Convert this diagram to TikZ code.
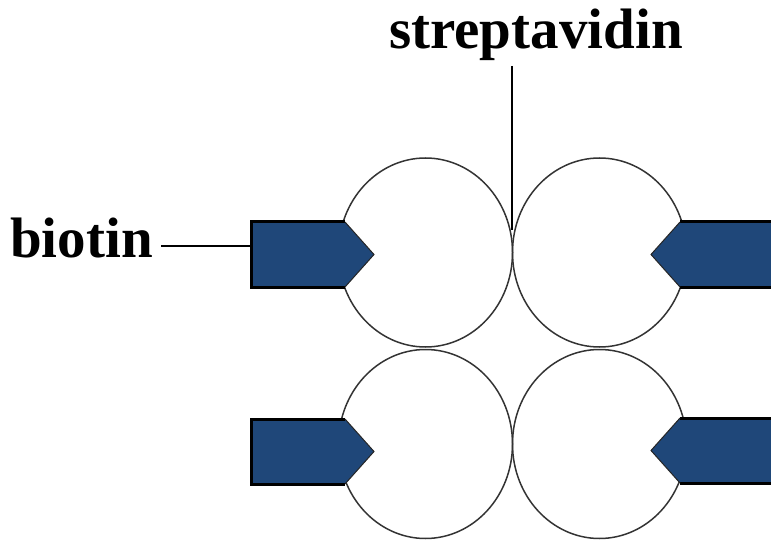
\documentclass[tikz,border=0pt]{standalone}
\usepackage{fontspec}
\setmainfont{Liberation Serif}
\usetikzlibrary{shapes.geometric}
\definecolor{biotinblue}{RGB}{31,71,121}
\begin{document}
\begin{tikzpicture}[x=1pt,y=-1pt,
  bead/.style={draw=black!80, line width=1.5pt, ellipse, minimum width=174pt, minimum height=189pt, inner sep=0pt},
  lbl/.style={font=\fontsize{57}{60}\selectfont\bfseries, inner sep=0pt, anchor=base west},
  lead/.style={line width=2.2pt, black},
  boxedge/.style={line width=3pt, black},
  notch/.style={line width=1pt, black!85},
  biotinleft/.pic={
    \fill[biotinblue] (0,0) -- (94,0) -- (123,32.5) -- (94,65) -- (0,65) -- cycle;
    \draw[boxedge] (94,0) -- (0,0) -- (0,65) -- (94,65);
    \draw[notch] (94,0) -- (123,32.5) -- (94,65);
  }]
\useasboundingbox (0,0) rectangle (771,540);
% streptavidin beads
\node[bead] (tl) at (425.5,252.5) {};
\node[bead] (tr) at (599.5,252.5) {};
\node[bead] (bl) at (425.5,444) {};
\node[bead] (br) at (599.5,444) {};
% biotin blocks
\pic at (251,222) {biotinleft};
\pic at (251,419) {biotinleft};
\pic[xscale=-1] at (774,222) {biotinleft};
\pic[xscale=-1] at (774,418) {biotinleft};
% labels
\node[lbl] (biotin) at (10,258) {biotin};
\node[lbl] (strep) at (389,49) {streptavidin};
\coordinate (biotinlead) at (161,246);
\coordinate (biotinbox) at (250,246);
\coordinate (streplead) at (512,66);
\coordinate (strepfoot) at (512,230);
\draw[lead] (biotinlead) -- (biotinbox);
\draw[lead] (streplead) -- (strepfoot);
\end{tikzpicture}
\end{document}
